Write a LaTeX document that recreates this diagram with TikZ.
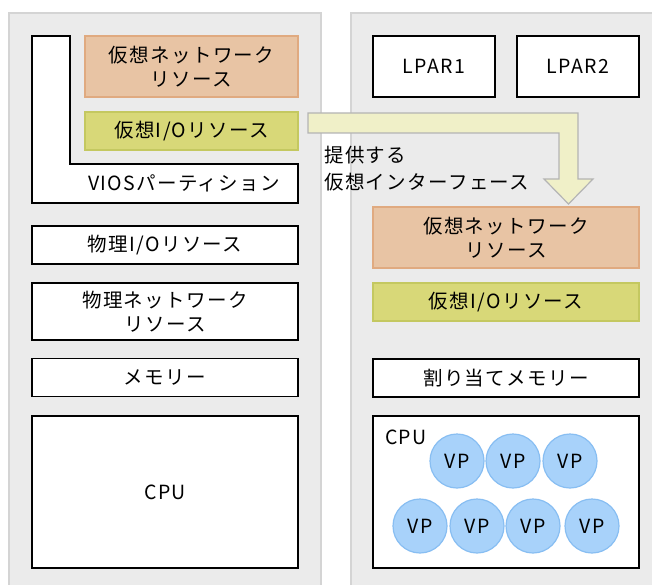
\documentclass[tikz,border=0pt]{standalone}
\usepackage{fontspec}
\setmainfont{Noto Sans CJK JP}[LetterSpace=7]
\usetikzlibrary{positioning}

\definecolor{panelfill}{HTML}{EBEBEB}
\definecolor{panelline}{HTML}{D4D4D4}
\definecolor{netfill}{HTML}{E8C4A4}
\definecolor{netline}{HTML}{E0AA80}
\definecolor{viofill}{HTML}{D8D878}
\definecolor{violine}{HTML}{C4C860}
\definecolor{arrowfill}{HTML}{F0F0C8}
\definecolor{arrowline}{HTML}{B4B4B4}
\definecolor{vpfill}{HTML}{A8D2FA}
\definecolor{vpline}{HTML}{88BEF2}

\begin{document}
\begin{tikzpicture}[x=1pt,y=-1pt,
		every node/.style={font=\fontsize{19.5}{24}\selectfont,align=center,inner sep=0pt},
		panel/.style={fill=panelfill,draw=panelline,line width=1.2pt},
		res/.style={draw=black,fill=white,line width=1.4pt,minimum height=38pt},
		wide/.style={res,minimum width=266pt},
		vnet/.style={fill=netfill,draw=netline,line width=1.2pt,minimum width=#1,minimum height=61pt},
		vio/.style={fill=viofill,draw=violine,line width=1.2pt,minimum width=#1,minimum height=38pt},
		lpar/.style={res,minimum width=122pt,minimum height=61pt},
		vp/.style={circle,fill=vpfill,draw=vpline,line width=1.2pt,minimum size=54pt}]
		\useasboundingbox (0,0) rectangle (652,585);

		% panels
		\draw[panel] (9,13) rectangle (321,600);
		\draw[panel] (351,13) rectangle (670,600);

		% VIOS side
		\draw[fill=white,line width=1.4pt] (32,36) -- (70,36) -- (70,164) -- (298,164)
			-- (298,203) -- (32,203) -- cycle;
		\draw (184,183) node (vios){VIOSパーティション};
		\draw (191.5,66.5) node [vnet=213pt] (vnetA){仮想ネットワーク\\リソース};
		\draw (191.5,131) node [vio=213pt] (vioA){仮想I/Oリソース};
		\draw (165,245) node [wide] (physio){物理I/Oリソース};
		\draw (165,311.5) node [wide,minimum height=57pt] (physnet){物理ネットワーク\\リソース};
		\draw (165,377.5) node [wide] (memA){メモリー};
		\draw (165,492) node [wide,minimum height=152pt] (cpuA){CPU};

		% LPAR side
		\draw (434,66.5) node [lpar] (lpar1){LPAR1};
		\draw (578,66.5) node [lpar] (lpar2){LPAR2};
		\draw (506,237.5) node [vnet=266pt] (vnetB){仮想ネットワーク\\リソース};
		\draw (506,302) node [vio=266pt] (vioB){仮想I/Oリソース};
		\draw (506,378) node [wide] (memB){割り当てメモリー};
		\draw (506,492) node [wide,minimum height=152pt] (cpuB){};
		\draw (385,437) node [anchor=west] (cpulabel){CPU};

		\draw (457,461) node [vp] (vp1){VP};
		\draw (513,461) node [vp] (vp2){VP};
		\draw (570,461) node [vp] (vp3){VP};
		\draw (420,526) node [vp] (vp4){VP};
		\draw (477,526) node [vp] (vp5){VP};
		\draw (533,526) node [vp] (vp6){VP};
		\draw (592,526) node [vp] (vp7){VP};

		% provided interface
		\draw[fill=arrowfill,draw=arrowline,line width=1.2pt] (308,113) -- (578,113) -- (578,179)
			-- (593,179) -- (568.5,204) -- (544,179) -- (559,179) -- (559,133) -- (308,133) -- cycle;
		\draw (324,168.5) node [anchor=west,align=left] (iface){提供する\\[3pt]仮想インターフェース};
	\end{tikzpicture}
\end{document}
